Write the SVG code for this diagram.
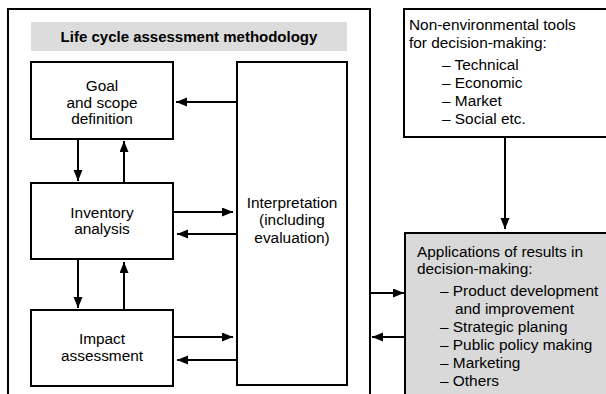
<svg xmlns="http://www.w3.org/2000/svg" width="606" height="394" viewBox="0 0 606 394">
<style>
  .box { fill: #ffffff; stroke: #000000; stroke-width: 2; }
  .gbox { fill: #d9d9d9; stroke: #000000; stroke-width: 2; }
  .t { font-family: "Liberation Sans", Arial, sans-serif; font-size: 15.4px; fill: #000000; }
  .c { text-anchor: middle; }
  .b { font-weight: bold; font-size: 15px; }
  .ln { stroke: #000000; stroke-width: 2; fill: none; marker-end: url(#ah); }
</style>
<defs>
  <marker id="ah" markerUnits="userSpaceOnUse" markerWidth="12" markerHeight="10" refX="11" refY="4.5" orient="auto">
    <path d="M0,0 L11,4.5 L0,9 z" fill="#000000"/>
  </marker>
</defs>
<rect width="606" height="394" fill="#ffffff"/>
<g id="lca-frame">
  <path d="M8,400 L8,9 L370,9 L370,400" class="box" style="fill:none"/>
  <rect x="31" y="22" width="316" height="29" fill="#dcdcdc"/>
  <text class="t c b" x="189" y="42">Life cycle assessment methodology</text>
</g>
<g id="goal">
  <rect class="box" x="31" y="62" width="142" height="77"/>
  <text class="t c" x="102" y="91">Goal</text>
  <text class="t c" x="102" y="108">and scope</text>
  <text class="t c" x="102" y="124">definition</text>
</g>
<g id="inventory">
  <rect class="box" x="31" y="183" width="142" height="76"/>
  <text class="t c" x="102" y="218">Inventory</text>
  <text class="t c" x="102" y="234">analysis</text>
</g>
<g id="impact">
  <rect class="box" x="31" y="310" width="142" height="76"/>
  <text class="t c" x="102" y="344">Impact</text>
  <text class="t c" x="102" y="361">assessment</text>
</g>
<g id="interpretation">
  <rect class="box" x="237" y="62" width="110" height="323"/>
  <text class="t c" x="292" y="208">Interpretation</text>
  <text class="t c" x="292" y="225">(including</text>
  <text class="t c" x="292" y="243">evaluation)</text>
</g>
<g id="non-environmental">
  <rect class="box" x="404" y="9" width="210" height="128"/>
  <text class="t" x="409" y="30">Non-environmental tools</text>
  <text class="t" x="409" y="48">for decision-making:</text>
  <text class="t" x="442" y="70">– Technical</text>
  <text class="t" x="442" y="88">– Economic</text>
  <text class="t" x="442" y="106">– Market</text>
  <text class="t" x="442" y="124">– Social etc.</text>
</g>
<g id="applications">
  <rect class="gbox" x="405" y="233" width="210" height="170"/>
  <text class="t" x="417" y="257">Applications of results in</text>
  <text class="t" x="417" y="274">decision-making:</text>
  <text class="t" x="440" y="296">– Product development</text>
  <text class="t" x="455" y="314">and improvement</text>
  <text class="t" x="440" y="332">– Strategic planing</text>
  <text class="t" x="440" y="350">– Public policy making</text>
  <text class="t" x="440" y="368">– Marketing</text>
  <text class="t" x="440" y="386">– Others</text>
</g>
<g id="connectors">
  <line class="ln" x1="237" y1="102" x2="176" y2="102"/>
  <line class="ln" x1="78" y1="139" x2="78" y2="181"/>
  <line class="ln" x1="124" y1="183" x2="124" y2="141"/>
  <line class="ln" x1="78" y1="259" x2="78" y2="308"/>
  <line class="ln" x1="124" y1="310" x2="124" y2="262"/>
  <line class="ln" x1="173" y1="212" x2="233" y2="212"/>
  <line class="ln" x1="237" y1="234" x2="177" y2="234"/>
  <line class="ln" x1="173" y1="337" x2="233" y2="337"/>
  <line class="ln" x1="237" y1="360" x2="177" y2="360"/>
  <line class="ln" x1="505" y1="137" x2="505" y2="229"/>
  <line class="ln" x1="370" y1="293" x2="404" y2="293"/>
  <line class="ln" x1="405" y1="337" x2="372" y2="337"/>
</g>
</svg>
